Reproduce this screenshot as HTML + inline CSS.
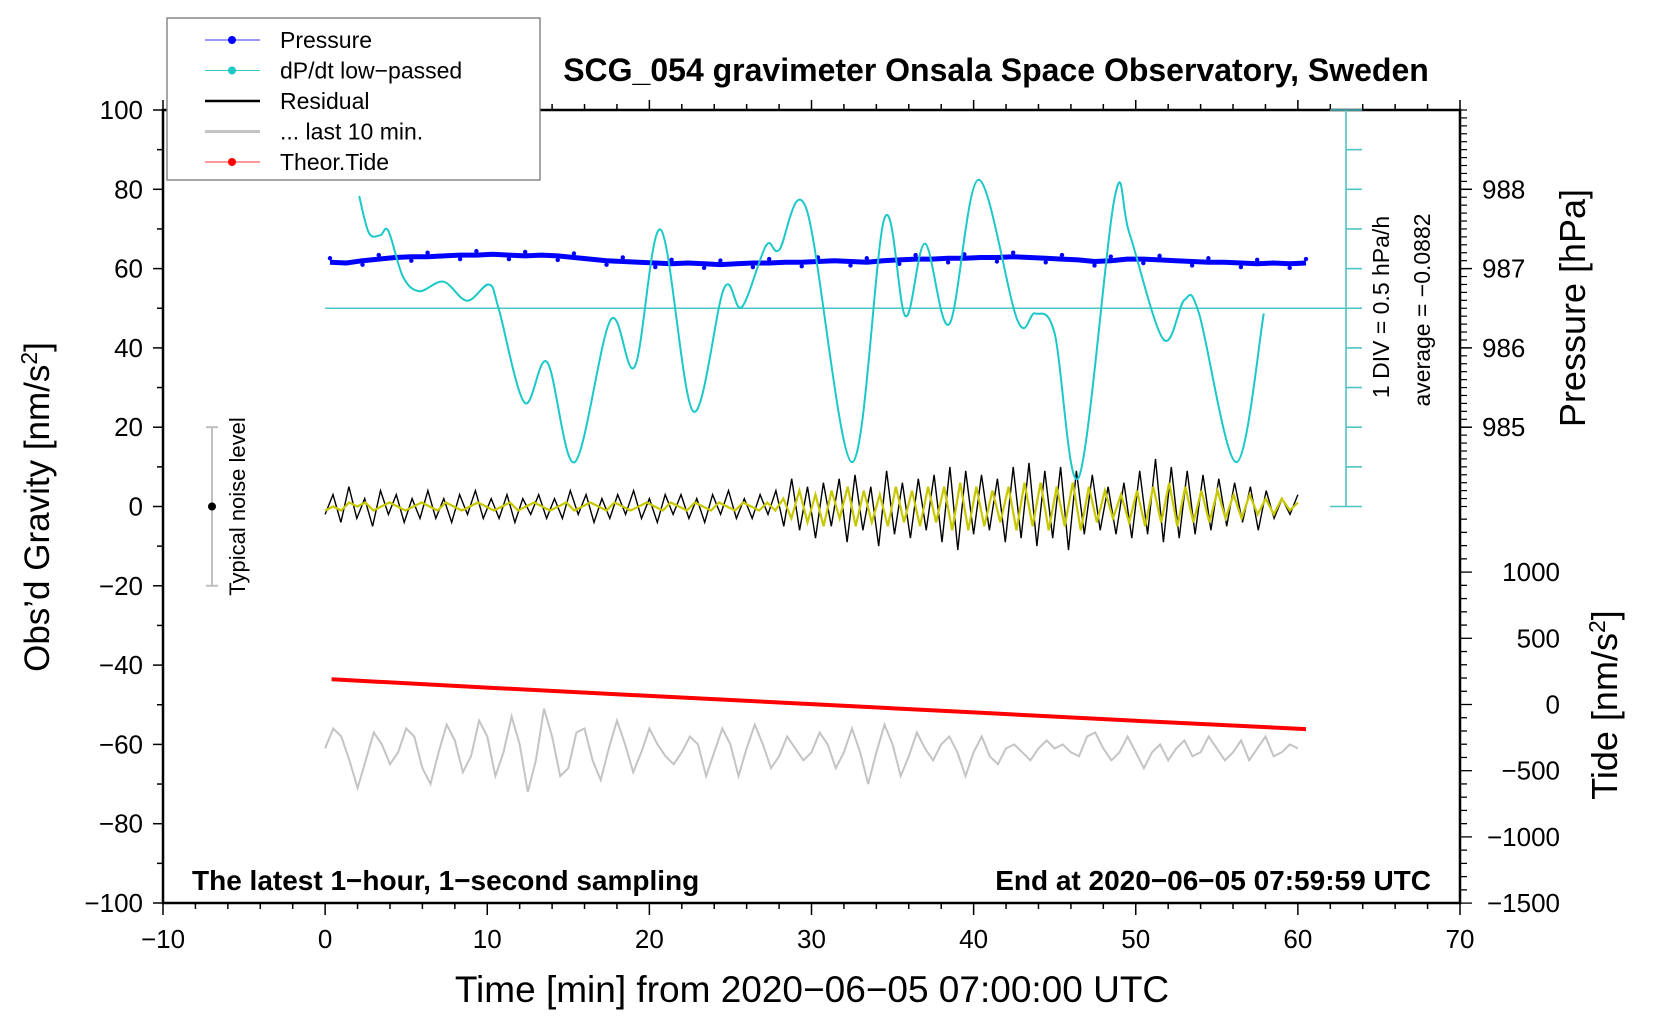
<!DOCTYPE html>
<html><head><meta charset="utf-8"><style>
html,body{margin:0;padding:0;background:#fff;}
svg{display:block;font-family:"Liberation Sans",sans-serif;}
</style></head><body>
<svg id="chart" width="1660" height="1020" viewBox="0 0 1660 1020" xmlns="http://www.w3.org/2000/svg"></svg>
<script>
// ---- data arrays ----
const dpdtTimes = [2.1,2.7,3.4,3.9,4.8,5.8,7.3,8.75,10.1,10.7,12.3,13.7,15.4,17.6,19.1,20.7,22.7,24.6,25.7,27.2,28,29.7,32.5,34.5,35.8,37,38.5,40.3,42.7,43.8,45,46.5,48.7,49.6,51.7,53,53.9,56.2,57.9];
const dpdtValues = [78.3,69,68.4,69.5,58,54.3,56.7,51.9,56,50,26.2,36.4,11.2,47,35.3,69.8,24,55,50.3,65.8,64.7,74.9,11.2,72.7,48,66.3,46,82.4,47,48.7,43.6,7.5,78,69,42.2,52.1,48.7,11.2,48.7];
const pressureHpa = [987.08,987.07,987.10,987.12,987.14,987.15,987.15,987.16,987.17,987.17,987.18,987.17,987.16,987.17,987.16,987.14,987.12,987.10,987.09,987.08,987.07,987.06,987.07,987.06,987.05,987.06,987.07,987.07,987.08,987.08,987.09,987.10,987.09,987.08,987.10,987.11,987.12,987.12,987.13,987.13,987.14,987.14,987.15,987.14,987.13,987.12,987.11,987.09,987.10,987.12,987.12,987.11,987.10,987.09,987.08,987.08,987.07,987.06,987.07,987.06,987.07];
const residual = [-2,3,-4,5,-3,2,-5,4,-2,3,-4,2,-3,4,-3,2,-4,3,-2,4,-3,2,-3,3,-4,2,-2,3,-3,2,-3,4,-2,3,-4,2,-3,3,-2,4,-3,2,-4,3,-2,3,-3,2,-4,3,-2,4,-3,2,-3,3,-2,4,-5,7,-6,5,-8,6,-5,7,-9,8,-6,5,-10,9,-7,6,-8,7,-6,8,-9,10,-11,9,-7,8,-6,7,-9,10,-8,11,-10,9,-8,10,-11,9,-7,8,-6,5,-7,6,-8,9,-7,12,-9,10,-8,9,-7,8,-6,7,-5,6,-4,5,-6,4,-3,2,-2,3];
const filtered = [-1,0,-1,1,0,1,-1,0,1,0,-1,0,1,0,-1,1,0,-1,0,1,0,-1,0,1,-1,0,1,0,-1,0,1,-1,0,1,0,-1,1,0,-1,0,1,0,-1,1,0,-1,1,0,-1,1,0,-1,1,0,-1,1,-1,2,-3,4,-4,3,-5,4,-3,5,-5,4,-4,3,-5,5,-4,4,-5,5,-4,5,-6,6,-6,5,-5,4,-4,5,-6,6,-5,6,-6,5,-5,6,-6,5,-4,4,-3,3,-4,4,-5,5,-4,6,-5,5,-4,4,-4,4,-3,3,-3,3,-2,2,-2,2,-1,1];
const lastTen = [-61,-56,-58,-64,-71,-64,-57,-60,-65,-62,-56,-58,-66,-70,-62,-55,-59,-67,-63,-54,-58,-68,-62,-53,-60,-72,-64,-51,-58,-68,-66,-57,-56,-64,-69,-61,-54,-60,-67,-62,-56,-60,-63,-65,-62,-58,-60,-68,-62,-56,-60,-68,-61,-55,-60,-66,-63,-58,-61,-64,-62,-57,-60,-66,-62,-56,-62,-70,-62,-55,-60,-68,-63,-57,-61,-64,-60,-58,-62,-68,-62,-58,-63,-65,-61,-60,-62,-64,-61,-59,-61,-60,-62,-63,-58,-57,-61,-64,-62,-58,-62,-66,-62,-60,-64,-61,-59,-63,-62,-58,-61,-64,-62,-59,-64,-61,-58,-63,-62,-60,-61];
const tideTimes = [0.4,10,20,30,40,50,60.5];
const tideValues = [190,128,65,3,-60,-123,-186];
const xTicks = [-10,0,10,20,30,40,50,60,70];
const yTicks = [100,80,60,40,20,0,-20,-40,-60,-80,-100];
const pTicks = [985,986,987,988];
const tideTicks = [1000,500,0,-500,-1000,-1500];

// ---- axes ----
const L=163,R=1460,T=110,B=903;
const X = t => L + (t+10)*(R-L)/80;
const Y = g => T + (100-g)*(B-T)/200;
const PY = p => Y(60+(p-987)*20);
const TY = v => 704.5 - v*0.1324;
const NS="http://www.w3.org/2000/svg";
const svg=document.getElementById('chart');
function mk(tag,attrs,parent){const e=document.createElementNS(NS,tag);for(const k in attrs)e.setAttribute(k,attrs[k]);(parent||svg).appendChild(e);return e;}
function txt(s,attrs,parent){const e=mk('text',attrs,parent);e.textContent=s;return e;}
function pts(xs,ys){return xs.map((x,i)=>x.toFixed(1)+','+ys[i].toFixed(1)).join(' ');}
function smooth(px,py){let d='M'+px[0]+','+py[0];for(let i=0;i<px.length-1;i++){const x0=px[i-1]??px[i],y0=py[i-1]??py[i],x3=px[i+2]??px[i+1],y3=py[i+2]??py[i+1];
 const c1x=px[i]+(px[i+1]-x0)/6,c1y=py[i]+(py[i+1]-y0)/6,c2x=px[i+1]-(x3-px[i])/6,c2y=py[i+1]-(y3-py[i])/6;
 d+=` C${c1x.toFixed(1)},${c1y.toFixed(1)} ${c2x.toFixed(1)},${c2y.toFixed(1)} ${px[i+1].toFixed(1)},${py[i+1].toFixed(1)}`;}return d;}

// frame
const frame=mk('rect',{x:L,y:T,width:R-L,height:B-T,fill:'none',stroke:'#000','stroke-width':2.5});



// x ticks
const gx=mk('g',{});


for(let t=-10;t<=70;t+=2){const big=t%10===0;
 mk('line',{x1:X(t),x2:X(t),y1:B,y2:B+(big?12:6),stroke:'#000','stroke-width':1.5},gx);
 mk('line',{x1:X(t),x2:X(t),y1:T,y2:T-(big?10:6),stroke:'#000','stroke-width':1.5},gx);}
xTicks.forEach(t=>{const e=txt(String(t).replace('-','\u2212'),{x:X(t),y:948,'font-size':26,'text-anchor':'middle'},gx);
 
 });
// y ticks
const gy=mk('g',{});


for(let g=-100;g<=100;g+=10){const big=g%20===0;mk('line',{x1:L,x2:L-(big?10:6),y1:Y(g),y2:Y(g),stroke:'#000','stroke-width':1.5},gy);}
yTicks.forEach(g=>{const e=txt(String(g).replace('-','\u2212'),{x:L-20,y:Y(g)+9,'font-size':26,'text-anchor':'end'},gy);
 
 });
// pressure axis ticks
const gp=mk('g',{});


for(let g=0;g<=100;g+=2){mk('line',{x1:R,x2:R+7,y1:Y(g),y2:Y(g),stroke:'#000','stroke-width':1.2},gp);}
pTicks.forEach(p=>{mk('line',{x1:R,x2:R+12,y1:PY(p),y2:PY(p),stroke:'#000','stroke-width':1.5},gp);
 const e=txt(String(p),{x:R+22,y:PY(p)+9,'font-size':26},gp);
 
 });
// tide axis ticks
const gt=mk('g',{});


for(let v=-1500;v<=1500;v+=100){const y=TY(v);if(y<515||y>B+1)continue;
 const big=v%500===0;mk('line',{x1:R,x2:R+(big?12:7),y1:y,y2:y,stroke:'#000','stroke-width':1.3},gt);}
tideTicks.forEach(v=>{const e=txt(String(v).replace('-','\u2212'),{x:1560,y:TY(v)+9,'font-size':26,'text-anchor':'end'},gt);
 
 });

// cyan scale bar
const gs=mk('g',{stroke:'#4fc4c4','stroke-width':1.6});


mk('line',{x1:1346,x2:1346,y1:Y(100),y2:Y(0)},gs);
for(let g=0;g<=100;g+=10){mk('line',{x1:(g===0||g===100)?1330:1346,x2:1362,y1:Y(g),y2:Y(g)},gs);}
const zero=mk('line',{x1:X(0),x2:1362,y1:Y(50),y2:Y(50),stroke:'#4fc4c4','stroke-width':1.6});


const l1=txt('1 DIV = 0.5 hPa/h',{x:0,y:0,'font-size':23,'text-anchor':'middle',transform:'translate(1389,307) rotate(-90)'});


const l2=txt('average = \u22120.0882',{x:0,y:0,'font-size':23,'text-anchor':'middle',transform:'translate(1430,310) rotate(-90)'});



// noise level
const gn=mk('g',{});


mk('line',{x1:212,x2:212,y1:Y(20),y2:Y(-20),stroke:'#c0c0c0','stroke-width':2},gn);
mk('line',{x1:206,x2:218,y1:Y(20),y2:Y(20),stroke:'#c0c0c0','stroke-width':2},gn);
mk('line',{x1:206,x2:218,y1:Y(-20),y2:Y(-20),stroke:'#c0c0c0','stroke-width':2},gn);
mk('circle',{cx:212,cy:Y(0),r:4,fill:'#000'},gn);
txt('Typical noise level',{x:0,y:0,'font-size':22,'text-anchor':'middle',transform:`translate(245,${Y(0)}) rotate(-90)`},gn);

// series: gray last 10 min
const gray=mk('polyline',{points:pts(lastTen.map((v,i)=>X(i*60/(lastTen.length-1))),lastTen.map(Y)),fill:'none',stroke:'#c4c4c4','stroke-width':2});


// residual
const res=mk('polyline',{points:pts(residual.map((v,i)=>X(i*60/(residual.length-1))),residual.map(Y)),fill:'none',stroke:'#000','stroke-width':1.4});


const fil=mk('polyline',{points:pts(filtered.map((v,i)=>X(i*60/(filtered.length-1))),filtered.map(Y)),fill:'none',stroke:'#c8c800','stroke-width':2.2});


// tide
const tide=mk('polyline',{points:pts(tideTimes.map(X),tideValues.map(TY)),fill:'none',stroke:'#ff0000','stroke-width':4});


// pressure
const pt=pressureHpa.map((v,i)=>0.3+i*60.2/(pressureHpa.length-1));
const pl=mk('polyline',{points:pts(pt.map(X),pressureHpa.map(PY)),fill:'none',stroke:'#0000ff','stroke-width':5,'stroke-linejoin':'round'});


pressureHpa.forEach((v,i)=>{const c=mk('circle',{cx:X(pt[i]),cy:PY(v)+((i%3)-1)*4,r:2.2,fill:'#0000ff'});
 
 });
// dP/dt
const dp=mk('path',{d:smooth(dpdtTimes.map(X),dpdtValues.map(Y)),fill:'none',stroke:'#1cc8c8','stroke-width':2});



// texts
const tt=txt('SCG_054 gravimeter Onsala Space Observatory, Sweden',{x:996,y:81,'font-size':32,'font-weight':'bold','text-anchor':'middle'});


const b1=txt('The latest 1\u2212hour, 1\u2212second sampling',{x:192,y:890,'font-size':28,'font-weight':'bold'});


const b2=txt('End at 2020\u221206\u221205 07:59:59 UTC',{x:1431,y:890,'font-size':28,'font-weight':'bold','text-anchor':'end'});


const xt=txt('Time [min] from 2020\u221206\u221205 07:00:00 UTC',{x:812,y:1002,'font-size':37,'text-anchor':'middle'});


const yt=mk('text',{x:0,y:0,'font-size':35,'text-anchor':'middle',transform:'translate(49,507) rotate(-90)'});
yt.innerHTML='Obs\u2019d Gravity [nm/s<tspan dy="-12" font-size="23">2</tspan><tspan dy="12">]</tspan>';


const pt2=txt('Pressure [hPa]',{x:0,y:0,'font-size':36,'text-anchor':'middle',transform:'translate(1585,308) rotate(-90)'});


const tdt=mk('text',{x:0,y:0,'font-size':36,'text-anchor':'middle',transform:'translate(1617,705) rotate(-90)'});
tdt.innerHTML='Tide [nm/s<tspan dy="-12" font-size="23">2</tspan><tspan dy="12">]</tspan>';



// legend
const lg=mk('g',{});


mk('rect',{x:167,y:18,width:373,height:162,fill:'#fff',stroke:'#777','stroke-width':1.3},lg);
const legNames=['Pressure','dP/dt low\u2212passed','Residual','... last 10 min.','Theor.Tide'];
const legCols=['#3333ff','#3cc8c8','#000','#c4c4c4','#ff3333'];
const legW=[1,1,2.5,3,1];
const legDot=['#0000ff','#1cc8c8',null,null,'#ff0000'];
legNames.forEach((n,i)=>{const y=40+i*30.5;
 const e=mk('g',{},lg);
 
 
 mk('line',{x1:205,x2:260,y1:y,y2:y,stroke:legCols[i],'stroke-width':legW[i]},e);
 if(legDot[i])mk('circle',{cx:232,cy:y,r:4,fill:legDot[i]},e);
 txt(n,{x:280,y:y+8,'font-size':23},e);});
</script>
</body></html>
